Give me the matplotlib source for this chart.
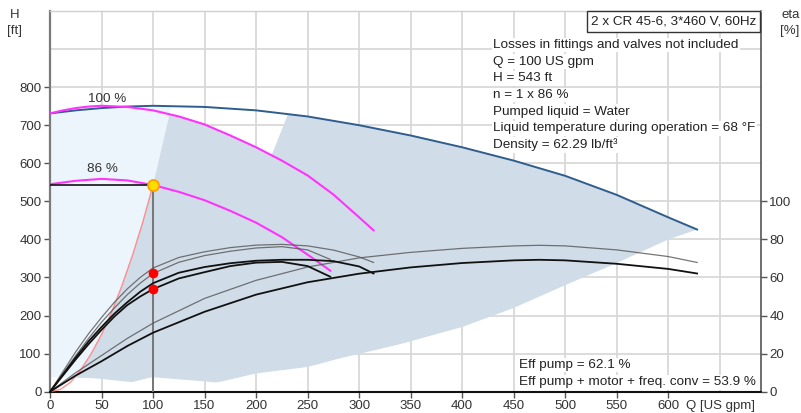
import numpy as np
import matplotlib
matplotlib.use("Agg")
import matplotlib.pyplot as plt
from matplotlib.patches import Rectangle

plt.rcParams['font.family'] = ['Liberation Sans', 'DejaVu Sans']

# ---------------- data ----------------
# Envelope: 2 pumps at 100 % speed (Q-H)
q_env = [0, 25, 50, 75, 100, 150, 200, 250, 300, 350, 400, 450, 500, 550, 600, 628]
h_env = [731, 739, 745, 749, 751, 748, 739, 723, 700, 673, 642, 607, 567, 517, 458, 426]

# One pump at 100 % speed
q_m100 = [0, 12.5, 25, 37.5, 50, 75, 100, 125, 150, 175, 200, 225, 250, 275, 300, 314]
h_m100 = [731, 739, 745, 749, 751, 748, 739, 723, 702, 673, 642, 607, 568, 518, 458, 424]

# One pump at 86 % speed
q_m86 = [0, 25, 50, 75, 100, 125, 150, 175, 200, 225, 250, 272]
h_m86 = [545, 554, 559, 555, 543, 525, 503, 475, 444, 406, 360, 318]

# System curve through duty point
q_sys = [0, 10, 20, 30, 40, 50, 60, 70, 80, 90, 100]
h_sys = [0, 6, 25, 58, 100, 150, 210, 280, 358, 445, 543]
# Its continuation (edge of the shaded range)
q_sys_ext = [100, 110, 118]
h_sys_ext = [543, 659, 752]

# Lower edge of operating range
q_low = [0, 45, 80, 95, 100, 150, 162, 200, 250, 282, 340, 400, 450, 500, 550, 600, 628]
h_low = [39, 35, 25, 36, 38, 27, 24, 48, 65, 88, 125, 170, 220, 280, 338, 400, 426]

# Edge between one-pump and two-pump ranges (Q at lower / upper end)
q_edge = [215, 231]

# Duty point
q_duty, h_duty = 100, 543
eta_duty = [62.1, 53.9]

# Efficiency curves [%]
q_e1 = [0, 12.5, 25, 37.5, 50, 62.5, 75, 87.5, 100, 125, 150, 175, 200, 225, 250, 275, 300, 314]
eta_p1 = [0, 10.5, 21, 30.5, 39, 47, 54, 60, 65, 70.5, 73.5, 75.7, 77, 77.4, 76.6, 74.4, 70.8, 67.9]
eta_t1 = [0, 9, 18, 26.5, 34, 41, 47, 52.5, 57, 62.5, 65.5, 67.5, 68.8, 69.3, 69.3, 68.6, 65.8, 62.1]
q_e86 = [0, 12.5, 25, 37.5, 50, 62.5, 75, 87.5, 100, 125, 150, 175, 200, 225, 250, 272]
eta_p86 = [0, 9.5, 19, 28, 36.5, 44, 51, 57, 62.1, 68, 71.5, 73.8, 75.5, 76.2, 74.5, 69.5]
eta_t86 = [0, 8.5, 17, 25, 32.5, 39.5, 45.5, 50, 53.9, 59.5, 62.8, 66, 67.8, 68.2, 66, 60.4]
q_e2 = [0, 25, 50, 75, 100, 150, 200, 250, 300, 350, 400, 450, 475, 500, 550, 600, 628]
eta_p2 = [0, 10, 19, 28, 36, 49, 58.5, 65.5, 70.3, 73.2, 75.3, 76.6, 76.9, 76.6, 74.5, 71, 67.9]
eta_t2 = [0, 8.5, 16, 24, 31, 42, 51, 57.5, 62, 65.3, 67.6, 69, 69.3, 69, 67.2, 64.5, 62.1]

x_ticks = [0, 50, 100, 150, 200, 250, 300, 350, 400, 450, 500, 550, 600]
y_ticks = [0, 100, 200, 300, 400, 500, 600, 700, 800]
eta_ticks = [0, 20, 40, 60, 80, 100]

info_lines = ["Losses in fittings and valves not included",
              "Q = 100 US gpm",
              "H = 543 ft",
              "n = 1 x 86 %",
              "Pumped liquid = Water",
              "Liquid temperature during operation = 68 °F",
              "Density = 62.29 lb/ft³"]
eff_lines = ["Eff pump = 62.1 %", "Eff pump + motor + freq. conv = 53.9 %"]
title_box = "2 x CR 45-6, 3*460 V, 60Hz"

FS = 9.7
TFS = 9.5
TXT = '#222222'

# ---------------- figure ----------------
W, H = 801, 413
fig = plt.figure(figsize=(W / 100, H / 100), dpi=100)
L, R, T, B = 50, 761, 11, 391.7
ax = fig.add_axes([L / W, (H - B) / H, (R - L) / W, (B - T) / H])
ax.set_xlim(0, 690)
ax.set_ylim(0, 1000)


def px(x, y):
    return x / W, 1 - y / H


# shaded regions built from boundary curves
sys_q = np.array(q_sys + q_sys_ext[1:], float)
sys_h = np.array(h_sys + h_sys_ext[1:], float)
grid = np.linspace(0, sys_q[-1], 4000)
diff = np.interp(grid, sys_q, sys_h) - np.interp(grid, q_low, h_low)
q_int = grid[np.argmax(diff > 0)]
diff2 = np.interp(grid, sys_q, sys_h) - np.interp(grid, q_m100, h_m100)
q_a = grid[np.argmax(diff2 > 0)]


def seg(qs, hs, a, b, n=120):
    g = np.linspace(a, b, n)
    return g, np.interp(g, qs, hs)


# light region
p1 = seg(q_low, h_low, 0, q_int)
p2 = seg(sys_q, sys_h, q_int, sys_q[-1])
p3 = seg(q_env, h_env, sys_q[-1], 0)
lx = np.concatenate([p1[0], p2[0], p3[0]])
ly = np.concatenate([p1[1], p2[1], p3[1]])
ax.fill(lx, ly, color='#edf5fc', lw=0, zorder=1)

# gray region
g1 = seg(sys_q, sys_h, q_int, q_a)
g2 = seg(q_m100, h_m100, q_a, q_edge[0])
g3 = seg(q_env, h_env, q_edge[1], q_env[-1])
g4 = seg(q_low, h_low, q_low[-1], q_int)
gx = np.concatenate([g1[0], g2[0], g3[0], g4[0]])
gy = np.concatenate([g1[1], g2[1], g3[1], g4[1]])
ax.fill(gx, gy, color='#d0dce7', lw=0, zorder=1)

# grid
ax.set_xticks(x_ticks)
ax.set_xticks([650], minor=True)
ax.set_yticks(y_ticks)
ax.set_yticks([900, 1000], minor=True)
ax.grid(True, which='both', color='#d6d6d6', lw=1.2, zorder=0)
ax.set_axisbelow(True)
ax.tick_params(which='minor', length=0)
ax.tick_params(which='major', length=4, width=1, color='#555555',
               labelsize=TFS, labelcolor='#333333', pad=2)

ax.spines['left'].set_color('#7a7a7a'); ax.spines['left'].set_linewidth(1.6)
ax.spines['bottom'].set_color('#111111'); ax.spines['bottom'].set_linewidth(1.5)
ax.spines['top'].set_color('#cfcfcf'); ax.spines['top'].set_linewidth(1.0)
ax.spines['right'].set_color('#555555'); ax.spines['right'].set_linewidth(1.2)

# curves
ax.plot(q_env, h_env, color='#2f5d8c', lw=1.4, zorder=3)
ax.plot(q_m100, h_m100, color='#ff33ff', lw=1.5, zorder=4)
ax.plot(q_m86, h_m86, color='#ff33ff', lw=1.5, zorder=4)
ax.plot(q_sys, h_sys, color='#ff8080', lw=1.0, alpha=0.85, zorder=3)
ax.plot([0, q_duty], [h_duty, h_duty], color='#111111', lw=1.2, zorder=4)
ax.plot([q_duty, q_duty], [0, h_duty], color='#6e6e6e', lw=1.3, zorder=3)

ax.text(55, 768, "100 %", ha='center', va='center', fontsize=FS, color='#333333', zorder=5)
ax.text(51, 585, "86 %", ha='center', va='center', fontsize=FS, color='#333333', zorder=5)

# efficiency axis
ax2 = ax.twinx()
ax2.set_ylim(0, 200)
ax2.set_yticks(eta_ticks)
ax2.tick_params(length=4, width=1, color='#555555', labelsize=TFS,
                labelcolor='#333333', pad=2)
for s in ax2.spines.values():
    s.set_visible(False)

thin = dict(color='#555555', lw=0.9, alpha=0.8)
bold = dict(color='#111111', lw=1.3)
ax2.plot(q_e1, eta_p1, **thin)
ax2.plot(q_e86, eta_p86, **thin)
ax2.plot(q_e2, eta_p2, **thin)
ax2.plot(q_e1, eta_t1, **bold)
ax2.plot(q_e86, eta_t86, **bold)
ax2.plot(q_e2, eta_t2, **bold)
ax2.plot([q_duty] * 2, eta_duty, 'o', color='#ff0000', ms=7, mec='none', zorder=6)
ax2.plot([q_duty], [h_duty / 5], 'o', color='#ffdd00', mec='#ff9a00', mew=1.2, ms=8, zorder=7)

# labels
ax.set_xticklabels([str(v) for v in x_ticks])
fig.text(*px(721, 406), "Q [US gpm]", ha='center', va='center', fontsize=TFS, color='#333333')
fig.text(*px(15, 15), "H", ha='center', va='center', fontsize=TFS, color='#333333')
fig.text(*px(15, 31), "[ft]", ha='center', va='center', fontsize=TFS, color='#333333')
fig.text(*px(781, 15), "eta", ha='left', va='center', fontsize=TFS, color='#333333')
fig.text(*px(780, 31), "[%]", ha='left', va='center', fontsize=TFS, color='#333333')

fig.patches.append(Rectangle(px(587, 31.7), (760 - 587) / W, 20.7 / H,
                             transform=fig.transFigure, fc='white', ec='#333333',
                             lw=1.0, zorder=10))
fig.text(*px(673.5, 21.7), title_box, ha='center', va='center', fontsize=FS,
         color=TXT, zorder=11)

ys = [45, 61.7, 78.3, 95, 111.7, 128.3, 145]
for yy, t in zip(ys, info_lines):
    fig.text(*px(493, yy), t, ha='left', va='center', fontsize=FS, color=TXT,
             bbox=dict(boxstyle='square,pad=0.1', fc='white', ec='none'))
for yy, t in zip([365, 382.5], eff_lines):
    fig.text(*px(519, yy), t, ha='left', va='center', fontsize=FS, color=TXT,
             bbox=dict(boxstyle='square,pad=0.1', fc='white', ec='none'))

fig.savefig("out.png", dpi=100)
